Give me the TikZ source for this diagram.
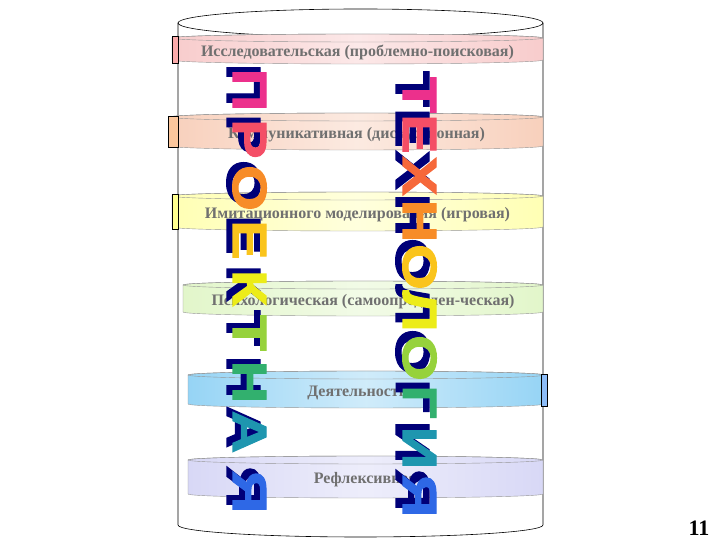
\documentclass[tikz,border=0pt]{standalone}
\usepackage{fontspec}
\setmainfont{Liberation Serif}
\newfontfamily\wordfont{Liberation Sans}[FakeBold=2.2]

% band colours
\definecolor{bandpink}{RGB}{248,204,204}
\definecolor{bandsalmon}{RGB}{248,208,188}
\definecolor{bandyellow}{RGB}{255,255,180}
\definecolor{bandgreen}{RGB}{226,246,202}
\definecolor{bandblue}{RGB}{150,212,245}
\definecolor{bandlilac}{RGB}{216,216,246}
\definecolor{bandline}{RGB}{150,150,150}
\definecolor{labelgray}{RGB}{112,112,112}
% word art colours
\definecolor{shadownavy}{RGB}{0,0,120}
\definecolor{waA}{RGB}{236,48,140}
\definecolor{waB}{RGB}{244,78,102}
\definecolor{waC}{RGB}{246,104,58}
\definecolor{waD}{RGB}{247,140,40}
\definecolor{waE}{RGB}{250,196,28}
\definecolor{waF}{RGB}{236,236,24}
\definecolor{waG}{RGB}{150,210,60}
\definecolor{waH}{RGB}{50,176,110}
\definecolor{waI}{RGB}{30,150,175}
\definecolor{waJ}{RGB}{46,104,230}

\begin{document}
\begin{tikzpicture}[
    x=1pt, y=1pt,
    bandtext/.style={font=\bfseries\fontsize{16}{18}\selectfont, text=labelgray, inner sep=0pt},
    sidebox/.style={draw=black, line width=0.6pt},
    wordart/.style={font=\wordfont\bfseries\fontsize{48}{48}\selectfont, rotate=-90, xscale=1.22,
                    inner sep=0pt, text height=34pt, text depth=0pt, anchor=center}
]
\useasboundingbox (0,0) rectangle (720,540);

% --- big cylinder ---
\draw[fill=white, line width=0.6pt] (178,517) -- (178,15)
  arc[start angle=180, end angle=360, x radius=182.5, y radius=12] -- (543,517);
\draw[line width=0.6pt] (360.5,517) ellipse[x radius=182.5, y radius=14];

% --- bands (flat discs) ---
\foreach \n/\xa/\xb/\yt/\yb/\col/\txt in {
  1/172/543/506/476/bandpink/{Исследовательская (проблемно-поисковая)},
  2/170/543/427/390/bandsalmon/{Коммуникативная (дискуссионная)},
  3/172/543/348/309/bandyellow/{Имитационного моделирования (игровая)},
  4/183/543/259/224/bandgreen/{Психологическая (самоопределен-ческая)},
  5/188/544/169/132/bandblue/{Деятельностная},
  6/188/543/84/42/bandlilac/{Рефлексивная}}{
  \pgfmathsetmacro\xm{(\xa+\xb)/2}
  \pgfmathsetmacro\rx{(\xb-\xa)/2}
  \shade[left color=\col, right color=\col, middle color=\col!45, draw=bandline]
    (\xa,\yt-4) -- (\xa,\yb+4)
    arc[start angle=180, end angle=360, x radius=\rx, y radius=4] -- (\xb,\yt-4)
    arc[start angle=0, end angle=180, x radius=\rx, y radius=4] -- cycle;
  \draw[bandline] (\xm,\yt-4) ellipse[x radius=\rx, y radius=4];
  \node[bandtext] (band\n) at (\xm,{(\yt+\yb)/2-3}) {\txt};
}

% side faces of the discs
\draw[sidebox, fill=bandpink!70!red!75!white] (172,477) rectangle (178,504);
\draw[sidebox, fill=bandsalmon!70!orange!80!white] (168,393) rectangle (178,424);
\draw[sidebox, fill=bandyellow!80!yellow] (172,311) rectangle (178,346);
\draw[sidebox, fill=bandblue!85!blue!90!white] (541,134) rectangle (547,166);

% --- word art: ПРОЕКТНАЯ ---
\foreach \i/\ch/\y/\col in {1/П/450/waA, 2/Р/401/waB, 3/О/352/waD, 4/Е/300/waE,
  5/К/252/waF, 6/Т/207/waG, 7/Н/158/waH, 8/А/108/waI, 9/Я/48/waJ}{
  \node[wordart, text=shadownavy] (ps\i) at (244,\y+5) {\ch};
  \node[wordart, text=\col] (pl\i) at (250,\y) {\ch};
}

% --- word art: ТЕХНОЛОГИЯ ---
\foreach \i/\ch/\y/\col in {1/Т/445/waA, 2/Е/406/waB, 3/Х/364/waC, 4/Н/319/waD,
  5/О/273/waE, 6/Л/229/waF, 7/О/182/waG, 8/Г/138/waH, 9/И/92/waI, 10/Я/44/waJ}{
  \node[wordart, text=shadownavy] (ts\i) at (413,\y+6) {\ch};
  \node[wordart, text=\col] (tl\i) at (420,\y) {\ch};
}

% page number
\node[font=\bfseries\fontsize{22}{24}\selectfont, inner sep=0pt] (pagenum) at (699,12) {11};
\end{tikzpicture}
\end{document}
